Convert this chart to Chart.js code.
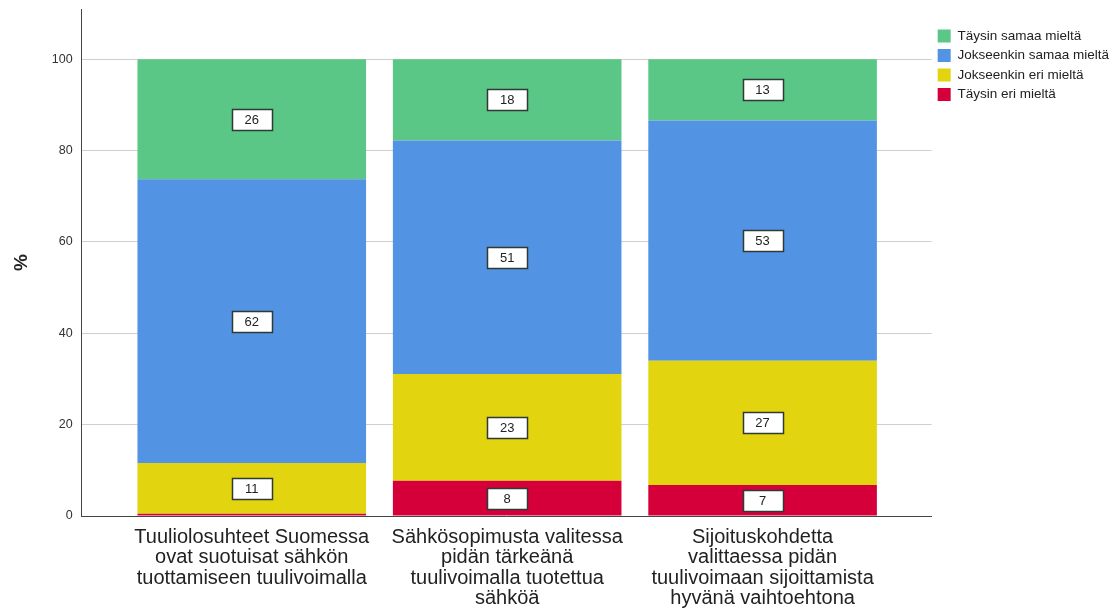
<!DOCTYPE html>
<html>
<head>
<meta charset="utf-8">
<script src="https://cdn.jsdelivr.net/npm/chart.js@4/dist/chart.umd.min.js"></script>
<style>
html,body{margin:0;padding:0;background:#fff;}
#wrap{width:1115px;height:611px;position:relative;}
</style>
</head>
<body>
<div id="wrap"><canvas id="c"></canvas></div>
<script>
// Categories (x tick labels, multi-line)
const categories = [
  ["Tuuliolosuhteet Suomessa", "ovat suotuisat sähkön", "tuottamiseen tuulivoimalla"],
  ["Sähkösopimusta valitessa", "pidän tärkeänä", "tuulivoimalla tuotettua", "sähköä"],
  ["Sijoituskohdetta", "valittaessa pidän", "tuulivoimaan sijoittamista", "hyvänä vaihtoehtona"]
];
// Series (percent), bottom to top
const taysinEri = [0.5, 7.7, 6.8];
const jokseenkinEri = [11.1, 23.4, 27.2];
const jokseenkinSamaa = [62.1, 51.1, 52.6];
const taysinSamaa = [26.3, 17.8, 13.4];
// Y tick labels
const yTicks = [0, 20, 40, 60, 80, 100];

const seriesNames = ["Täysin eri mieltä", "Jokseenkin eri mieltä", "Jokseenkin samaa mieltä", "Täysin samaa mieltä"];
const seriesColors = ["#d5003a", "#e2d50f", "#5294e3", "#5bc787"];
const seriesValues = [taysinEri, jokseenkinEri, jokseenkinSamaa, taysinSamaa];

const FONT = '"Liberation Sans", Arial, sans-serif';

const datasets = seriesValues.map((vals, i) => ({
  label: seriesNames[i],
  data: vals.map((v, j) => ({x: j, y: v})),
  backgroundColor: seriesColors[i],
  borderWidth: 0,
  categoryPercentage: 1,
  barPercentage: 0.895
}));

const boxLabels = {
  id: 'boxLabels',
  afterDatasetsDraw(chart) {
    const ctx = chart.ctx;
    chart.data.datasets.forEach((ds, di) => {
      const meta = chart.getDatasetMeta(di);
      meta.data.forEach((el, i) => {
        const v = ds.data[i].y;
        if (v < 2) return;
        const p = el.getProps(['x', 'y', 'base'], true);
        const cx = p.x, cy = (p.y + p.base) / 2;
        const w = 40, h = 21;
        ctx.save();
        ctx.fillStyle = '#ffffff';
        ctx.fillRect(Math.round(cx - w/2) + 0.5, Math.round(cy - h/2) + 0.5, w, h);
        ctx.strokeStyle = '#2f3a34';
        ctx.lineWidth = 1.5;
        ctx.strokeRect(Math.round(cx - w/2) + 0.5, Math.round(cy - h/2) + 0.5, w, h);
        ctx.fillStyle = '#222';
        ctx.font = '13px ' + FONT;
        ctx.textAlign = 'center';
        ctx.textBaseline = 'middle';
        ctx.fillText(String(Math.round(v)), cx, cy + 1);
        ctx.restore();
      });
    });
  }
};

new Chart(document.getElementById('c'), {
  type: 'bar',
  data: { datasets },
  plugins: [boxLabels],
  options: {
    responsive: true,
    maintainAspectRatio: false,
    animation: false,
    layout: { padding: { top: 9, left: 10, right: -4, bottom: 0 } },
    plugins: {
      tooltip: { enabled: false },
      legend: {
        position: 'right',
        align: 'start',
        reverse: true,
        title: { display: true, text: ' ', font: { size: 1 }, padding: { top: 6, bottom: 7 } },
        labels: {
          boxWidth: 13,
          boxHeight: 13,
          padding: 6,
          color: '#222',
          font: { family: FONT, size: 13.5 }
        }
      }
    },
    scales: {
      x: {
        type: 'linear',
        stacked: true,
        min: -0.666,
        max: 2.662,
        offset: false,
        grid: { display: false },
        border: { display: true, color: '#444', width: 1 },
        afterBuildTicks(scale) { scale.ticks = categories.map((c, i) => ({ value: i })); },
        afterFit(scale) { scale.height = 95; },
        ticks: {
          autoSkip: false,
          maxRotation: 0,
          padding: 3,
          color: '#222',
          font: { family: FONT, size: 20, lineHeight: 1.02 },
          callback: (v) => categories[v]
        }
      },
      y: {
        stacked: true,
        min: 0,
        max: 111,
        afterBuildTicks(scale) { scale.ticks = yTicks.map(v => ({ value: v })); },
        afterFit(scale) { scale.paddingTop = 0; scale.paddingBottom = 0; },
        grid: { color: '#cfcfcf', drawTicks: false, lineWidth: 1 },
        border: { display: true, color: '#444', width: 1 },
        ticks: {
          padding: 9,
          color: '#333',
          font: { family: FONT, size: 12.5 }
        },
        title: {
          display: true,
          text: '%',
          color: '#222',
          font: { family: FONT, size: 19, weight: 'bold' },
          padding: { top: 0, bottom: 10 }
        }
      }
    }
  }
});
</script>
</body>
</html>
